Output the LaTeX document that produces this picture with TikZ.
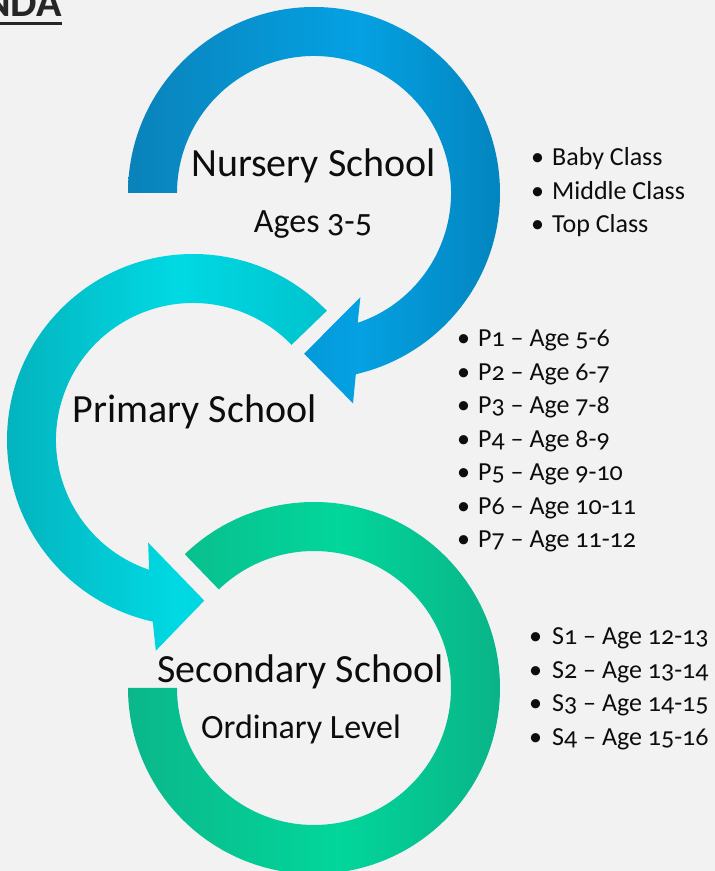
\documentclass[tikz,border=0pt]{standalone}
\usepackage{fontspec}
\setmainfont{Carlito}[Numbers=OldStyle]
\definecolor{bgGray}{HTML}{F2F2F2}
\definecolor{textBlack}{HTML}{0D0D0D}
\definecolor{titleGray}{HTML}{262626}
\definecolor{nurseryDark}{HTML}{0A82BA}
\definecolor{nurseryLight}{HTML}{04A1E3}
\definecolor{nurseryRight}{HTML}{0385BF}
\definecolor{primaryDark}{HTML}{04AFBA}
\definecolor{primaryLight}{HTML}{00D9E3}
\definecolor{primaryRight}{HTML}{00C3CE}
\definecolor{secondaryDark}{HTML}{0BB78A}
\definecolor{secondaryLight}{HTML}{02D69B}
\definecolor{secondaryRight}{HTML}{0AB085}
\pgfdeclarehorizontalshading{nurseryshade}{100bp}{color(0bp)=(nurseryDark); color(25bp)=(nurseryDark);
  color(56bp)=(nurseryLight); color(75bp)=(nurseryRight); color(100bp)=(nurseryRight)}
\pgfdeclarehorizontalshading{primaryshade}{100bp}{color(0bp)=(primaryDark); color(25bp)=(primaryDark);
  color(53bp)=(primaryLight); color(75bp)=(primaryRight); color(100bp)=(primaryRight)}
\pgfdeclarehorizontalshading{secondaryshade}{100bp}{color(0bp)=(secondaryDark); color(25bp)=(secondaryDark);
  color(52bp)=(secondaryLight); color(75bp)=(secondaryRight); color(100bp)=(secondaryRight)}

\begin{document}
\begin{tikzpicture}[x=1pt,y=1pt,
  school/.style={anchor=base,inner sep=0pt,text=textBlack,font=\fontsize{40}{48}\selectfont},
  subschool/.style={school,font=\fontsize{34}{40}\selectfont},
  bulletitem/.style={anchor=base west,inner sep=0pt,text=textBlack,font=\fontsize{26}{32}\selectfont},
  title/.style={anchor=base east,inner sep=0pt,text=titleGray,font=\bfseries\fontsize{42}{50}\selectfont},
  nurseryring/.style={shading=nurseryshade},
  primaryring/.style={shading=primaryshade},
  secondaryring/.style={shading=secondaryshade}]
\useasboundingbox (0,0) rectangle (715,871);
\clip (0,0) rectangle (715,871);
\fill[bgGray] (0,0) rectangle (715,871);

% rings
\begin{scope}[shift={(314,678)}]
  \shade[nurseryring] (180:186pt) arc[start angle=180,end angle=-77,radius=186pt]
    -- (-79.5:214pt) -- (-93.5:161pt) -- (-66:114pt) -- (-71.4:137pt)
    arc[start angle=-71.4,end angle=180,radius=137pt] -- cycle;
\end{scope}
\begin{scope}[shift={(193,431)}]
  \shade[primaryring] (44:186pt) arc[start angle=44,end angle=257.5,radius=186pt]
    -- (260:214pt) -- (274:161pt) -- (246.4:112pt) -- (251.3:137pt)
    arc[start angle=251.3,end angle=44,radius=137pt] -- cycle;
\end{scope}
\begin{scope}[shift={(314,183)}]
  \shade[secondaryring] (134:186pt) arc[start angle=134,end angle=-180,radius=186pt]
    -- (-180:137pt) arc[start angle=-180,end angle=134,radius=137pt] -- cycle;
\end{scope}

\node[title] (agenda) at (62,854) {NDA};
\draw[line width=3pt,titleGray] ([yshift=-6.5pt]agenda.base west) -- ([yshift=-6.5pt]agenda.base east);

\node[school] (nursery) at (313.5,694) {Nursery School};
\node[subschool] (ages) at (313,638) {Ages 3-5};
\node[school] (primary) at (194.5,448) {Primary School};
\node[school] (secondary) at (300.5,188) {Secondary School};
\node[subschool] (olevel) at (301,132) {Ordinary Level};

\foreach \txt [count=\i] in {Baby Class,Middle Class,Top Class}
  \node[bulletitem] (nc\i) at (531,{738.5-33.5*\i}) {\makebox[21pt][l]{\textbullet}\txt};
\foreach \txt [count=\i] in {P1 \textendash\ Age 5-6,P2 \textendash\ Age 6-7,P3 \textendash\ Age 7-8,P4 \textendash\ Age 8-9,P5 \textendash\ Age 9-10,P6 \textendash\ Age 10-11,P7 \textendash\ Age 11-12}
  \node[bulletitem] (pc\i) at (457,{557.5-33.5*\i}) {\makebox[21pt][l]{\textbullet}\txt};
\foreach \txt [count=\i] in {S1 \textendash\ Age 12-13,S2 \textendash\ Age 13-14,S3 \textendash\ Age 14-15,S4 \textendash\ Age 15-16}
  \node[bulletitem] (sc\i) at (529,{259.5-33.5*\i}) {\makebox[23pt][l]{\textbullet}\txt};
\end{tikzpicture}
\end{document}
